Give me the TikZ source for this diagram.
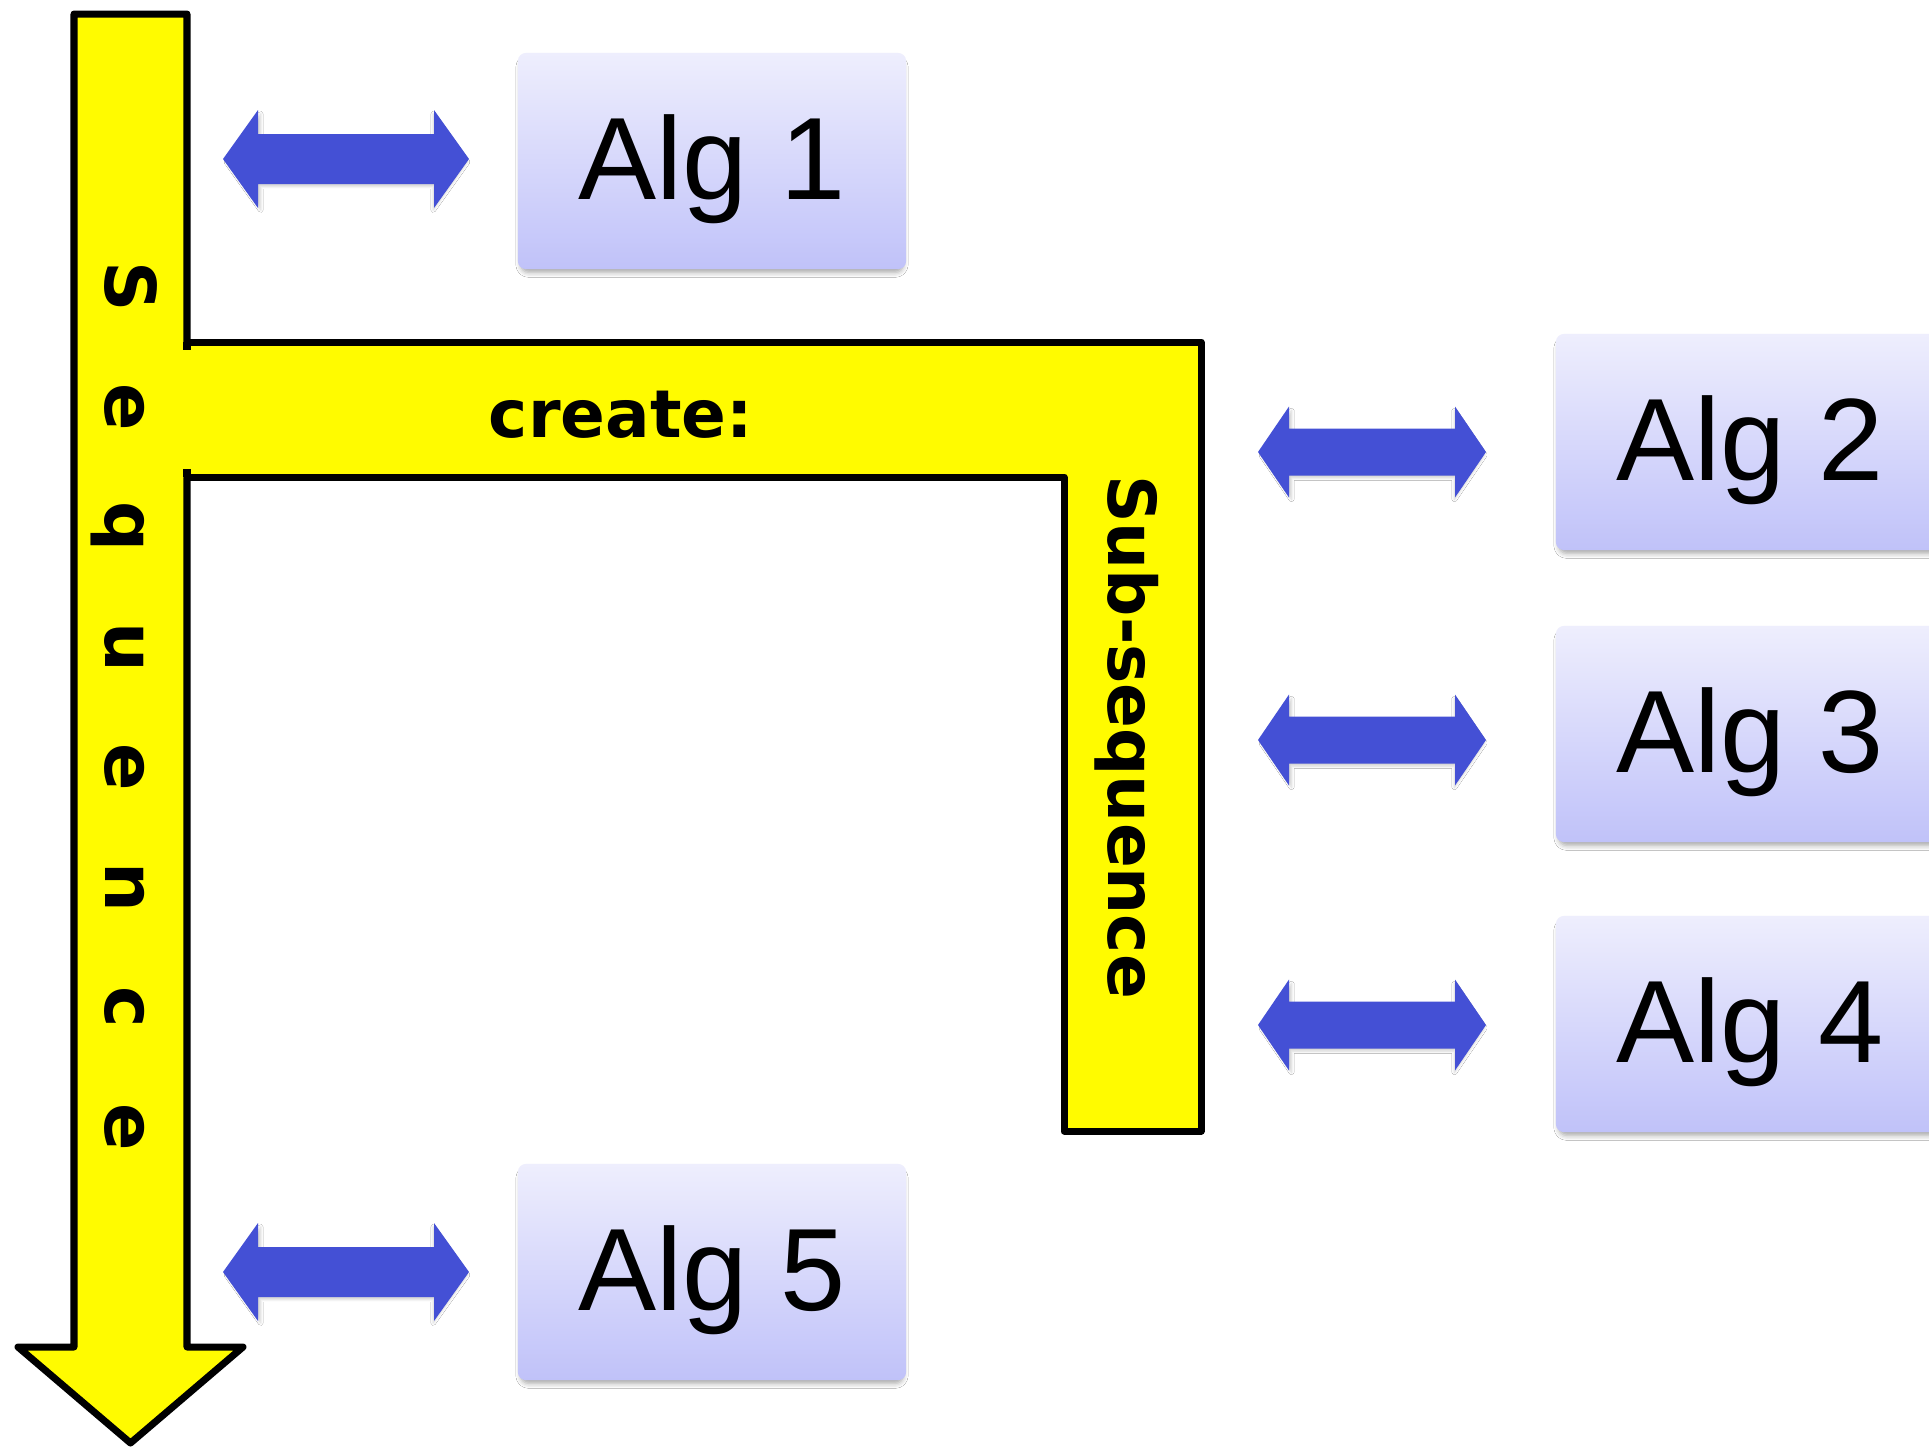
\documentclass[tikz,border=0pt]{standalone}
\usepackage{fontspec}
\setmainfont{Liberation Sans}
\newfontfamily\barfont{DejaVu Sans}
\usetikzlibrary{shadows.blur}

\definecolor{baryellow}{HTML}{FFFB00}
\definecolor{arrowblue}{HTML}{4450D5}
\definecolor{boxtop}{HTML}{EEEEFD}
\definecolor{boxbottom}{HTML}{C0C2F9}

\tikzset{
  outline/.style={draw=black, line width=0.07cm, line join=round},
  algbox/.style={rounded corners=0.08cm, minimum width=3.88cm, minimum height=2.16cm,
    inner sep=0pt, top color=boxtop, bottom color=boxbottom,
    text height=1cm, text depth=0.24cm,
    font=\fontsize{33.3pt}{40pt}\selectfont,
    blur shadow={shadow xshift=0pt, shadow yshift=-0.05cm, shadow scale=0.985,
      shadow blur radius=0.05cm, shadow opacity=35}},
  blockarrow/.style={fill=arrowblue,
    blur shadow={shadow xshift=0.01cm, shadow yshift=-0.03cm, shadow scale=0.98,
      shadow blur radius=0.025cm, shadow opacity=18}},
  barlabel/.style={inner sep=0pt, font=\barfont\bfseries\fontsize{18.8pt}{22pt}\selectfont},
}

% double-headed block arrow: left tip x, right tip x, centre y,
% half shaft width, half head width, head length
\newcommand\dblarrow[6]{%
  \path[blockarrow] (#1,#3) -- (#1+#6,#3-#5) -- (#1+#6,#3-#4) -- (#2-#6,#3-#4)
    -- (#2-#6,#3-#5) -- (#2,#3) -- (#2-#6,#3+#5) -- (#2-#6,#3+#4)
    -- (#1+#6,#3+#4) -- (#1+#6,#3+#5) -- cycle;}

\newcommand\spaced[1]{\makebox[1.2cm]{#1}}

\begin{document}
\begin{tikzpicture}[x=0.01cm, y=-0.01cm]
  \clip (0,0) rectangle (1929,1447);
  \fill[white] (0,0) rectangle (1929,1447);

  % main downward arrow
  \path[outline, fill=baryellow] (74,14) -- (187,14) -- (187,1347) -- (243,1347)
    -- (130.5,1443) -- (18,1347) -- (74,1347) -- cycle;

  % branch bar
  \fill[baryellow] (180,342) -- (1201,342) -- (1201,1131) -- (1064,1131)
    -- (1064,477) -- (180,477) -- cycle;
  \draw[outline] (184,342) -- (1201,342) -- (1201,1131) -- (1064,1131)
    -- (1064,477) -- (184,477);
  % small overhangs of the main bar's edge at the joint
  \draw[black, line width=0.07cm] (187,342) -- (187,350) (187,469) -- (187,477);

  % labels on the bars
  \node[barlabel, font=\barfont\bfseries\fontsize{19.9pt}{22pt}\selectfont,
        rotate=-90, anchor=base] (seq) at (106,707)
    {\spaced{S}\spaced{e}\spaced{q}\spaced{u}\spaced{e}\spaced{n}\spaced{c}\spaced{e}};
  \node[barlabel, anchor=base] (create) at (621,437) {create:};
  \node[barlabel, rotate=-90, anchor=base] (subseq) at (1108,737) {Sub-sequence};

  % algorithm boxes
  \node[algbox] (alg1) at (712,161) {Alg 1};
  \node[algbox] (alg2) at (1750,442) {Alg 2};
  \node[algbox] (alg3) at (1750,734) {Alg 3};
  \node[algbox] (alg4) at (1750,1024) {Alg 4};
  \node[algbox] (alg5) at (712,1272) {Alg 5};

  % two-way links
  \dblarrow{223}{469}{159}{25}{49}{35}
  \dblarrow{1258}{1486}{452}{23.5}{45.5}{31}
  \dblarrow{1258}{1486}{740}{23.5}{45.5}{31}
  \dblarrow{1258}{1486}{1025}{23.5}{45.5}{31}
  \dblarrow{223}{469}{1272}{25}{49}{35}
\end{tikzpicture}
\end{document}
